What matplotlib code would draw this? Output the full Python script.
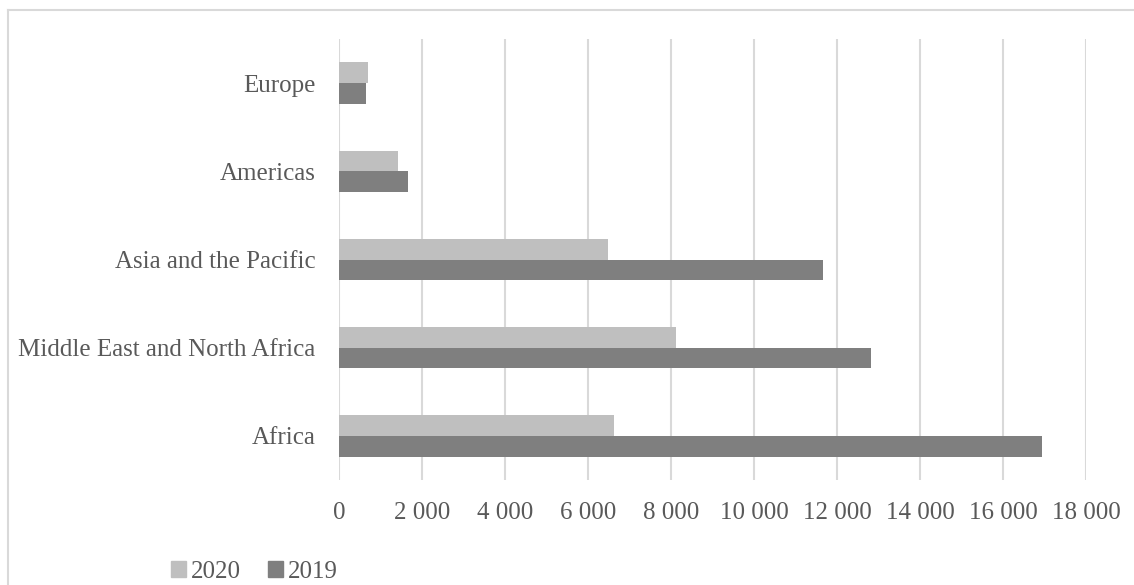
import matplotlib
matplotlib.use("Agg")
import matplotlib.pyplot as plt
from matplotlib.lines import Line2D
import numpy as np

categories = ["Africa", "Middle East and North Africa", "Asia and the Pacific", "Americas", "Europe"]
values_2020 = [6630, 8120, 6470, 1410, 700]
values_2019 = [16950, 12830, 11670, 1670, 660]
xticks = [0, 2000, 4000, 6000, 8000, 10000, 12000, 14000, 16000, 18000]
xtick_labels = ["0", "2 000", "4 000", "6 000", "8 000", "10 000", "12 000", "14 000", "16 000", "18 000"]

c2020 = "#bfbfbf"
c2019 = "#7f7f7f"
txt = "#595959"

plt.rcParams['font.family'] = ['Liberation Serif', 'DejaVu Serif']

W, H = 1134, 585
fig = plt.figure(figsize=(W/100, H/100), dpi=100)
ax = fig.add_axes([339/W, 1-480/H, (1086-339)/W, (480-39)/H])

y = np.arange(len(categories))
h = 0.235
ax.barh(y + h/2, values_2020, height=h, color=c2020, label="2020", zorder=3)
ax.barh(y - h/2, values_2019, height=h, color=c2019, label="2019", zorder=3)

ax.set_xlim(0, 18000)
ax.set_ylim(-0.5, len(categories) - 0.5)
ax.set_xticks(xticks)
ax.set_xticklabels(xtick_labels)
ax.set_yticks(y)
ax.set_yticklabels(categories)
ax.tick_params(axis='both', length=0, colors=txt, labelsize=18)
ax.tick_params(axis='x', pad=16)
ax.tick_params(axis='y', pad=17)
ax.xaxis.grid(True, color="#d9d9d9", linewidth=1.5, zorder=0)
for s in ax.spines.values():
    s.set_visible(False)

handles = [plt.Rectangle((0, 0), 1, 1, color=c2020), plt.Rectangle((0, 0), 1, 1, color=c2019)]
fig.legend(handles, ["2020", "2019"], loc="center left", bbox_to_anchor=(148/W, 1-572/H),
           ncol=2, frameon=False, fontsize=18, labelcolor=txt, handlelength=0.6, handleheight=0.6,
           handletextpad=0.2, columnspacing=1.1)

fig.add_artist(Line2D([8/W, 8/W], [0, 1-10/H], transform=fig.transFigure, color="#d9d9d9", linewidth=1.5))
fig.add_artist(Line2D([8/W, 1], [1-10/H, 1-10/H], transform=fig.transFigure, color="#d9d9d9", linewidth=1.5))

fig.savefig("out.png", dpi=100, facecolor="white")
